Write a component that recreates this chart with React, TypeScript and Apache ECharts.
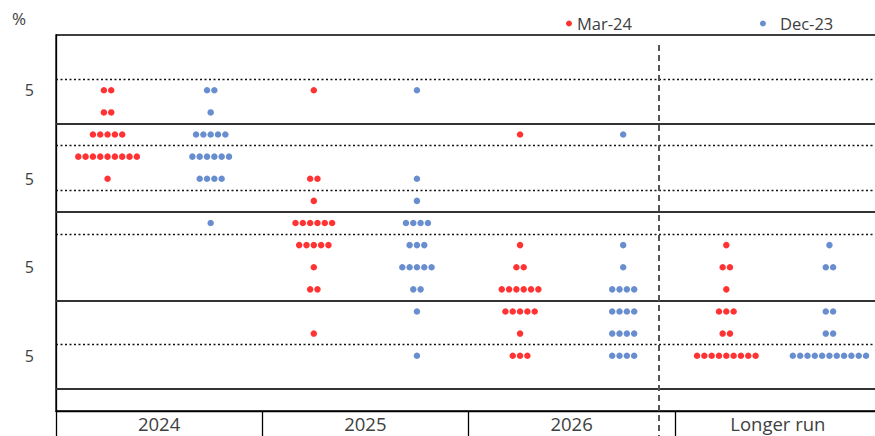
import React, { useEffect, useRef } from "react";
import * as echarts from "echarts";

const categories = ["2024", "2025", "2026", "Longer run"];
const rateLevels = [5.375, 5.125, 4.875, 4.625, 4.375, 4.125, 3.875, 3.625, 3.375, 3.125, 2.875, 2.625, 2.375];

// dot counts per rate level (same order as rateLevels)
const mar24_2024 = [2, 2, 5, 9, 1, 0, 0, 0, 0, 0, 0, 0, 0];
const mar24_2025 = [1, 0, 0, 0, 2, 1, 6, 5, 1, 2, 0, 1, 0];
const mar24_2026 = [0, 0, 1, 0, 0, 0, 0, 1, 2, 6, 5, 1, 3];
const mar24_longer = [0, 0, 0, 0, 0, 0, 0, 1, 2, 1, 3, 2, 9];

const dec23_2024 = [2, 1, 5, 6, 4, 0, 1, 0, 0, 0, 0, 0, 0];
const dec23_2025 = [1, 0, 0, 0, 1, 1, 4, 3, 5, 2, 1, 0, 1];
const dec23_2026 = [0, 0, 1, 0, 0, 0, 0, 1, 1, 4, 4, 4, 4];
const dec23_longer = [0, 0, 0, 0, 0, 0, 0, 1, 2, 0, 2, 2, 11];

const mar24Counts = [mar24_2024, mar24_2025, mar24_2026, mar24_longer];
const dec23Counts = [dec23_2024, dec23_2025, dec23_2026, dec23_longer];

const solidLevels = [5, 4, 3, 2];
const dottedLevels = [5.5, 4.75, 4.25, 3.75, 2.5];
const yLabelValues = [5.375, 4.375, 3.375, 2.375];
const yLabelText = "5";

const FONT = "'Open Sans', sans-serif";
const TEXT_COLOR = "#404040";
const DOT_STEP = 0.0355;

function buildDots(counts: number[][], side: number) {
  const out: number[][] = [];
  counts.forEach((col, c) => {
    col.forEach((n, li) => {
      for (let i = 0; i < n; i++) {
        out.push([c + 0.5 + side + (i - (n - 1) / 2) * DOT_STEP, rateLevels[li]]);
      }
    });
  });
  return out;
}

export default function App() {
  const ref = useRef<HTMLDivElement>(null);
  useEffect(() => {
    document.body.style.margin = "0";
    const chart = echarts.init(ref.current!, null, { renderer: "svg" });
    const markData: any[] = [
      ...solidLevels.map((v) => ({ yAxis: v, lineStyle: { color: "#333", width: 1.8, type: "solid" } })),
      ...dottedLevels.map((v) => ({ yAxis: v, lineStyle: { color: "#111", width: 1.3, type: [2, 2.5] } })),
    ];
    chart.setOption({
      animation: false,
      textStyle: { fontFamily: FONT },
      grid: {
        left: 56,
        top: 35,
        width: 825,
        height: 376,
        show: true,
        borderColor: "#000",
        borderWidth: 1.3,
      },
      legend: {
        left: 561,
        top: 10,
        itemGap: 128,
        itemWidth: 6,
        itemHeight: 6,
        textStyle: {
          fontSize: 16.5,
          color: TEXT_COLOR,
          fontFamily: FONT,
          rich: { p: { padding: [0, 0, 0, 9], fontSize: 16.5, color: TEXT_COLOR, fontFamily: FONT } },
        },
        formatter: (name: string) => (name === "Dec-23" ? `{p|${name}}` : name),
        data: [
          { name: "Mar-24", icon: "circle" },
          { name: "Dec-23", icon: "circle" },
        ],
      },
      xAxis: [
        { type: "value", min: 0, max: 4, show: false },
        {
          type: "category",
          data: categories,
          position: "bottom",
          boundaryGap: true,
          axisLine: { show: true, lineStyle: { color: "#000", width: 1.3 } },
          axisTick: { show: true, length: 26, lineStyle: { color: "#000", width: 1.3 } },
          axisLabel: { fontSize: 18.5, color: TEXT_COLOR, fontFamily: FONT, margin: 3 },
          splitLine: { show: false },
        },
      ],
      yAxis: {
        type: "value",
        min: 1.75,
        max: 6,
        interval: 0.125,
        axisLine: { show: true, lineStyle: { color: "#000", width: 1.3 } },
        axisTick: { show: false },
        splitLine: { show: false },
        axisLabel: {
          fontSize: 16,
          color: TEXT_COLOR,
          fontFamily: FONT,
          margin: 22,
          showMinLabel: true,
          showMaxLabel: true,
          formatter: (v: number) => (yLabelValues.some((l) => Math.abs(l - v) < 1e-6) ? yLabelText : ""),
        },
      },
      graphic: [
        {
          type: "text",
          left: 12,
          top: 10,
          style: { text: "%", fontSize: 17, fill: TEXT_COLOR, fontFamily: FONT },
        },
        {
          type: "line",
          shape: { x1: 659, y1: 45, x2: 659, y2: 436 },
          style: { stroke: "#555", lineWidth: 2, lineDash: [6, 4] },
          z: 10,
        },
      ],
      series: [
        {
          name: "Mar-24",
          type: "scatter",
          xAxisIndex: 0,
          symbol: "circle",
          symbolSize: 6.5,
          itemStyle: { color: "#FF0000" },
          data: buildDots(mar24Counts, -0.25),
          z: 5,
          markLine: {
            silent: true,
            symbol: ["none", "none"],
            label: { show: false },
            data: markData,
            z: 1,
          },
        },
        {
          name: "Dec-23",
          type: "scatter",
          xAxisIndex: 0,
          symbol: "circle",
          symbolSize: 6.5,
          itemStyle: { color: "#4472C4" },
          data: buildDots(dec23Counts, 0.25),
          z: 5,
        },
      ],
    });
    return () => chart.dispose();
  }, []);
  return (
    <div style={{ width: 875, height: 436, overflow: "hidden", position: "relative" }}>
      <div ref={ref} style={{ width: 890, height: 436 }} />
    </div>
  );
}
